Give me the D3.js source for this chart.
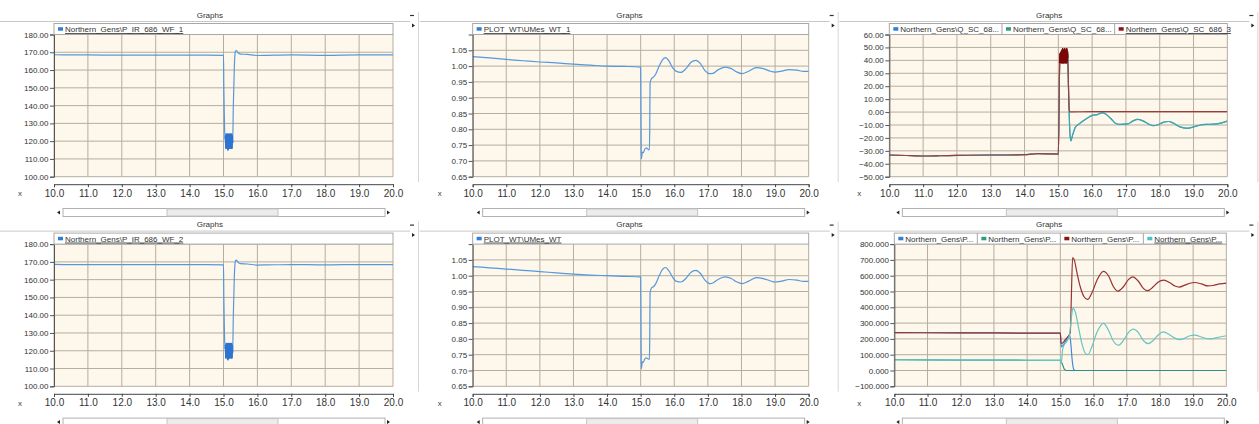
<!DOCTYPE html>
<html>
<head>
<meta charset="utf-8">
<script src="https://cdn.jsdelivr.net/npm/d3@7"></script>
<style>
  body { margin: 0; background: #fff; }
  svg { display: block; font-family: "Liberation Sans", Arial, sans-serif; }
</style>
</head>
<body>
<div id="chart"></div>
<script>
// x axis (time, s)
const xTicks = [10, 11, 12, 13, 14, 15, 16, 17, 18, 19, 20];

// Northern_Gens\P_IR_686_WF_1
const wf1Time = [10.0, 10.5, 11.0, 12.0, 13.0, 14.0, 14.5, 15.0, 15.01, 15.03, 15.05,
  15.06, 15.07, 15.08, 15.09, 15.10, 15.11, 15.12, 15.13, 15.14, 15.15, 15.16, 15.17,
  15.18, 15.19, 15.20, 15.21, 15.22, 15.23, 15.24, 15.25, 15.26, 15.27,
  15.29, 15.32, 15.35, 15.38, 15.42, 15.5, 15.7, 16.0, 16.3, 17.0, 18.0, 19.0, 20.0];
const wf1P = [168.6, 168.5, 168.5, 168.4, 168.4, 168.4, 168.4, 168.3, 150, 128, 121,
  123, 116, 124, 117, 123, 116, 124, 115, 123, 117, 124, 116,
  123, 116, 124, 117, 123, 116, 124, 116, 123, 119,
  140, 162, 170.5, 171, 170, 169, 168.8, 168.2, 168.3, 168.5, 168.3, 168.5, 168.5];

// Northern_Gens\P_IR_686_WF_2
const wf2Time = wf1Time;
const wf2P = [168.6, 168.5, 168.5, 168.4, 168.4, 168.4, 168.4, 168.3, 150, 128, 121,
  123, 116, 124, 117, 123, 116, 124, 115, 123, 117, 124, 116,
  123, 116, 124, 117, 123, 116, 124, 116, 123, 119,
  140, 162, 170.5, 171, 170, 169, 168.8, 168.2, 168.3, 168.5, 168.3, 168.5, 168.5];

// PLOT_WT\UMes_WT_1 and PLOT_WT\UMes_WT
const umesTime = [10.0, 10.5, 11.0, 11.5, 12.0, 12.5, 13.0, 13.5, 14.0, 14.5, 15.0,
  15.01, 15.02, 15.05, 15.08, 15.12, 15.17, 15.22, 15.26, 15.27, 15.28, 15.30, 15.33,
  15.38, 15.45, 15.55, 15.65, 15.74, 15.85, 15.95, 16.05, 16.2, 16.35, 16.5, 16.64,
  16.78, 16.92, 17.05, 17.15, 17.3, 17.52, 17.7, 17.85, 18.02, 18.2, 18.45, 18.65,
  18.85, 19.0, 19.2, 19.42, 19.65, 19.85, 20.0];
const umes1V = [1.030, 1.026, 1.021, 1.017, 1.013, 1.010, 1.006, 1.003, 1.000, 0.999, 0.997,
  0.85, 0.706, 0.728, 0.726, 0.737, 0.741, 0.737, 0.735, 0.80, 0.945, 0.955, 0.962,
  0.965, 0.975, 1.000, 1.020, 1.027, 1.015, 0.995, 0.984, 0.980, 0.992, 1.012, 1.018,
  1.008, 0.985, 0.976, 0.977, 0.988, 0.997, 0.992, 0.982, 0.976, 0.983, 0.995, 0.992,
  0.984, 0.981, 0.984, 0.989, 0.987, 0.983, 0.983];
const umes2V = [1.029, 1.025, 1.021, 1.017, 1.013, 1.009, 1.005, 1.002, 1.000, 0.998, 0.996,
  0.85, 0.705, 0.727, 0.726, 0.736, 0.740, 0.737, 0.735, 0.80, 0.945, 0.955, 0.962,
  0.965, 0.975, 1.000, 1.020, 1.026, 1.014, 0.995, 0.983, 0.980, 0.992, 1.011, 1.017,
  1.007, 0.985, 0.975, 0.977, 0.988, 0.996, 0.991, 0.981, 0.975, 0.982, 0.994, 0.991,
  0.984, 0.980, 0.983, 0.988, 0.986, 0.982, 0.982];

// Northern_Gens\Q_SC_686_x (Mvar)
const qPreTime = [10.0, 10.5, 11.0, 11.5, 12.0, 13.0, 13.5, 14.0, 14.2, 14.4, 14.7, 15.0, 15.02, 15.03];
const qPreVals = [-33.2, -33.6, -34.0, -33.8, -33.5, -33.2, -33.2, -33.0, -32.6, -32.2, -32.3, -32.5, 0, 25];
const qBlockTime = [15.04, 15.05, 15.06, 15.07, 15.08, 15.09, 15.10, 15.11, 15.12, 15.13, 15.14,
  15.15, 15.16, 15.17, 15.18, 15.19, 15.20, 15.21, 15.22, 15.23, 15.24, 15.25, 15.26, 15.27, 15.28];
const qBlockVals = [38, 45, 39, 46, 38, 47, 39, 48, 38, 49, 39, 48, 38, 47, 39, 49, 38, 48, 39, 48, 38, 49, 39, 47, 42];
const q3PostTime = [15.30, 15.32, 15.35, 16.0, 17.0, 18.0, 19.0, 20.0];
const q3PostVals = [20, 2, 0.2, 0.3, 0.3, 0.4, 0.4, 0.3];
const q2PostTime = [15.30, 15.32, 15.34, 15.37, 15.42, 15.5, 15.6, 15.75, 15.9, 16.0, 16.15,
  16.3, 16.4, 16.55, 16.7, 16.85, 17.05, 17.2, 17.35, 17.5, 17.65, 17.8, 17.95, 18.1,
  18.26, 18.4, 18.6, 18.8, 19.0, 19.2, 19.4, 19.6, 19.8, 20.0];
const q2PostVals = [20, 0, -15, -22.5, -18, -12, -9.5, -6.5, -4, -2.5, -2,
  -0.5, -1.5, -5, -8.8, -9.5, -9.2, -7, -5.6, -6.8, -9, -10.5, -9.8, -8,
  -7.3, -8.5, -11.5, -12.6, -11.5, -10, -9.5, -9.3, -8.5, -7];
const q1PostVals = [20, 0, -15, -22, -18, -12, -9.5, -6.5, -4, -2.5, -2,
  -0.6, -1.5, -5, -8.8, -9.5, -9.2, -7, -5.6, -6.8, -9, -10.5, -9.8, -8,
  -7.3, -8.5, -11.5, -12.5, -11.5, -10, -9.5, -9.3, -8.5, -7];

// Northern_Gens\P... (MW)
const p1Time = [10.0, 12.0, 14.0, 15.0, 15.03, 15.1, 15.2, 15.28, 15.32, 15.36, 15.4, 15.45, 16.0, 20.0];
const p1Vals = [240, 238, 237, 236, 150, 165, 200, 225, 160, 60, 10, 0, 0, 0];
const p2Time = [10.0, 12.0, 14.0, 15.0, 15.04, 15.08, 15.12, 15.18, 16.0, 20.0];
const p2Vals = [68, 66, 65, 64, 50, 30, 8, 0, 0, 0];
const p3Time = [10.0, 12.0, 14.0, 15.0, 15.02, 15.05, 15.15, 15.25, 15.3, 15.33, 15.37, 15.42,
  15.5, 15.6, 15.72, 15.82, 15.95, 16.1, 16.3, 16.45, 16.6, 16.73, 16.9, 17.05, 17.18,
  17.35, 17.5, 17.63, 17.8, 17.95, 18.12, 18.3, 18.45, 18.58, 18.75, 18.9, 19.05, 19.25,
  19.45, 19.6, 19.8, 20.0];
const p3Vals = [240, 238, 237, 236, 175, 172, 195, 220, 240, 450, 715, 700,
  620, 530, 465, 450, 490, 570, 628, 600, 530, 502, 530, 575, 592,
  565, 520, 505, 530, 560, 572, 555, 535, 528, 540, 552, 557, 548,
  535, 538, 548, 553];
const p4Time = [10.0, 12.0, 14.0, 15.0, 15.03, 15.06, 15.1, 15.2, 15.28, 15.33, 15.38, 15.45,
  15.55, 15.65, 15.75, 15.83, 15.95, 16.1, 16.3, 16.45, 16.6, 16.75, 16.9, 17.05, 17.2,
  17.35, 17.5, 17.65, 17.8, 17.95, 18.1, 18.3, 18.45, 18.6, 18.75, 18.9, 19.05, 19.25,
  19.45, 19.6, 19.8, 20.0];
const p4Vals = [68, 66, 65, 64, 45, 120, 155, 185, 230, 330, 395, 370,
  270, 170, 110, 100, 150, 240, 298, 255, 185, 160, 190, 240, 262,
  240, 190, 170, 190, 225, 244, 225, 205, 195, 205, 220, 224, 212,
  200, 202, 212, 220];

// y ticks
const yTicksP = [100, 110, 120, 130, 140, 150, 160, 170, 180];
const yTicksU = [0.65, 0.70, 0.75, 0.80, 0.85, 0.90, 0.95, 1.00, 1.05];
const yTicksQ = [-50, -40, -30, -20, -10, 0, 10, 20, 30, 40, 50, 60];
const yTicksPw = [-100, 0, 100, 200, 300, 400, 500, 600, 700, 800];

const BLUE = '#2f7fd6', TEAL = '#2f9c86', RED = '#8e1212', CYAN = '#4cc4c6';
const BLUE_LINE = '#5598de';
const zip = (t, v) => t.map((d, i) => [d, v[i]]);

const panels = [
  { col: 0, row: 0, left: 54, right: 393, domain: [100, 180], ticks: yTicksP, fmt: '.2f',
    series: [{ name: 'Northern_Gens\\P_IR_686_WF_1', color: BLUE, line: BLUE_LINE, block: [15.05, 15.27], pts: [zip(wf1Time, wf1P)] }] },
  { col: 1, row: 0, left: 53, right: 389, domain: [0.65, 1.10], ticks: yTicksU, fmt: '.2f',
    series: [{ name: 'PLOT_WT\\UMes_WT_1', color: BLUE, line: BLUE_LINE, pts: [zip(umesTime, umes1V)] }] },
  { col: 2, row: 0, left: 50, right: 388, domain: [-50, 60], ticks: yTicksQ, fmt: '.2f',
    series: [
      { name: 'Northern_Gens\\Q_SC_68...', color: BLUE, line: BLUE_LINE, pts: [zip(qPreTime, qPreVals), zip(qBlockTime, qBlockVals), zip(q2PostTime, q1PostVals)] },
      { name: 'Northern_Gens\\Q_SC_68...', color: TEAL, line: '#3aa9a6', pts: [zip(qPreTime, qPreVals), zip(qBlockTime, qBlockVals), zip(q2PostTime, q2PostVals)] },
      { name: 'Northern_Gens\\Q_SC_686_3', color: RED, line: '#a03a3a', block: [15.04, 15.28], blockColor: '#7a0606',
        pts: [zip(qPreTime, qPreVals), zip(qBlockTime, qBlockVals), zip(q3PostTime, q3PostVals)] }
    ] },
  { col: 0, row: 1, left: 54, right: 393, domain: [100, 180], ticks: yTicksP, fmt: '.2f',
    series: [{ name: 'Northern_Gens\\P_IR_686_WF_2', color: BLUE, line: BLUE_LINE, block: [15.05, 15.27], pts: [zip(wf2Time, wf2P)] }] },
  { col: 1, row: 1, left: 53, right: 389, domain: [0.65, 1.10], ticks: yTicksU, fmt: '.2f',
    series: [{ name: 'PLOT_WT\\UMes_WT', color: BLUE, line: BLUE_LINE, pts: [zip(umesTime, umes2V)] }] },
  { col: 2, row: 1, left: 55, right: 387, domain: [-100, 800], ticks: yTicksPw, fmt: '.3f',
    series: [
      { name: 'Northern_Gens\\P...', color: BLUE, line: '#3f8ad8', pts: [zip(p1Time, p1Vals)] },
      { name: 'Northern_Gens\\P...', color: TEAL, line: '#2e8f8a', pts: [zip(p2Time, p2Vals)] },
      { name: 'Northern_Gens\\P...', color: RED, line: '#9a3030', pts: [zip(p3Time, p3Vals)] },
      { name: 'Northern_Gens\\P...', color: CYAN, line: '#62c6c4', pts: [zip(p4Time, p4Vals)] }
    ] }
];

const width = 1259, height = 424, colW = 1259 / 3;
const rowY = [0, 209.6];

const svg = d3.select('#chart').append('svg')
  .attr('width', width).attr('height', height);

panels.forEach((p, pi) => {
  const px = p.col * colW, py = rowY[p.row];
  const g = svg.append('g').attr('transform', `translate(${px},${py})`);
  const top = 34.5, bottom = 176.7;

  const x = d3.scaleLinear().domain([10, 20]).range([p.left, p.right]);
  const y = d3.scaleLinear().domain(p.domain).range([bottom, top]);

  // window chrome
  g.append('text').attr('x', colW / 2).attr('y', 17.5).attr('text-anchor', 'middle')
    .style('font-size', '8px').style('fill', '#333').text('Graphs');
  g.append('line').attr('x1', 0).attr('x2', 410).attr('y1', 21.5).attr('y2', 21.5)
    .attr('stroke', '#c8c8c8');
  g.append('line').attr('x1', 410).attr('x2', 414).attr('y1', 15.5).attr('y2', 15.5)
    .attr('stroke', '#333').attr('stroke-width', 1.2);
  g.append('path').attr('d', 'M412,23.5 L415,25.5 L412,27.5 Z').attr('fill', '#222');
  g.append('line').attr('x1', 418.5).attr('x2', 418.5).attr('y1', 12).attr('y2', 182)
    .attr('stroke', '#d6d6d6');

  // plot background
  g.append('rect').attr('x', p.left).attr('y', top).attr('width', p.right - p.left)
    .attr('height', bottom - top).attr('fill', '#fdf8eb');

  // grid
  g.append('g').selectAll('line').data(xTicks).join('line')
    .attr('x1', d => x(d)).attr('x2', d => x(d)).attr('y1', top).attr('y2', bottom)
    .attr('stroke', '#b6ad9e').attr('stroke-width', 1);
  g.append('g').selectAll('line').data(p.ticks).join('line')
    .attr('x1', p.left).attr('x2', p.right).attr('y1', d => y(d)).attr('y2', d => y(d))
    .attr('stroke', '#b6ad9e').attr('stroke-width', 1);

  // series
  const clipId = 'clip' + pi;
  g.append('clipPath').attr('id', clipId).append('rect')
    .attr('x', p.left).attr('y', top).attr('width', p.right - p.left).attr('height', bottom - top);
  const line = d3.line().x(d => x(d[0])).y(d => y(d[1])).curve(d3.curveMonotoneX);
  const zig = d3.line().x(d => x(d[0])).y(d => y(d[1]));
  const sg = g.append('g').attr('clip-path', `url(#${clipId})`);
  p.series.forEach(s => {
    const pts = s.pts.reduce((a, b) => a.concat(b), []);
    sg.append('path').attr('d', line(pts)).attr('fill', 'none')
      .attr('stroke', s.line || s.color).attr('stroke-width', 1.2);
    if (s.block) {
      // dense oscillation drawn as a straight zig-zag so it reads as a solid band
      const bp = pts.filter(d => d[0] >= s.block[0] && d[0] <= s.block[1]);
      sg.append('path').attr('d', zig(bp)).attr('fill', s.blockColor || '#2c74d0')
        .attr('stroke', s.blockColor || '#2c74d0').attr('stroke-width', 1.6)
        .attr('stroke-linejoin', 'round');
    }
  });

  // y axis
  const yAxis = d3.axisLeft(y).tickValues(p.ticks).tickSize(4).tickFormat(d3.format(p.fmt));
  const ya = g.append('g').attr('transform', `translate(${p.left},0)`).call(yAxis);
  ya.select('.domain').attr('stroke', '#555');
  ya.selectAll('.tick line').attr('stroke', '#555');
  ya.selectAll('text').style('font-size', '8px').style('fill', '#333').attr('x', -5.5);

  // x axis
  const xAxis = d3.axisBottom(x).tickValues(xTicks).tickSizeOuter(0).tickSize(3)
    .tickFormat(d3.format('.1f'));
  const xa = g.append('g').attr('transform', `translate(0,${bottom + 7.5})`).call(xAxis);
  xa.select('.domain').attr('stroke', '#444');
  xa.selectAll('.tick line').attr('stroke', '#444');
  xa.selectAll('text').style('font-size', '10px').style('fill', '#333').attr('y', 5.5);
  g.append('text').attr('x', 20).attr('y', bottom + 19.5).attr('text-anchor', 'middle')
    .style('font-size', '8px').style('fill', '#444').text('x');

  // legend
  const lw = p.right - p.left, n = p.series.length, ew = lw / n;
  g.append('rect').attr('x', p.left).attr('y', 23.5).attr('width', lw).attr('height', 11)
    .attr('fill', '#fff').attr('stroke', '#a8a8a8');
  p.series.forEach((s, i) => {
    const ex = p.left + i * ew;
    if (i > 0) g.append('line').attr('x1', ex).attr('x2', ex).attr('y1', 23.5).attr('y2', 34.5)
      .attr('stroke', '#a8a8a8');
    g.append('rect').attr('x', ex + 4).attr('y', 27.2).attr('width', 5).attr('height', 3.5)
      .attr('fill', s.color);
    g.append('text').attr('x', ex + 11).attr('y', 32).style('font-size', '8px')
      .style('fill', '#333')
      .style('text-decoration', i === n - 1 ? 'underline' : 'none')
      .text(s.name);
  });

  // scroll bar
  const sy = 208.5;
  g.append('path').attr('d', `M60,${sy + 2} L57,${sy + 4} L60,${sy + 6} Z`).attr('fill', '#222');
  g.append('rect').attr('x', 63).attr('y', sy).attr('width', 322).attr('height', 8)
    .attr('fill', '#fff').attr('stroke', '#b0b0b0');
  g.append('rect').attr('x', 167).attr('y', sy + 0.5).attr('width', 111).attr('height', 7)
    .attr('fill', '#ececec').attr('stroke', '#c4c4c4');
  g.append('path').attr('d', `M387,${sy + 2} L390,${sy + 4} L387,${sy + 6} Z`).attr('fill', '#222');
});
</script>
</body>
</html>
